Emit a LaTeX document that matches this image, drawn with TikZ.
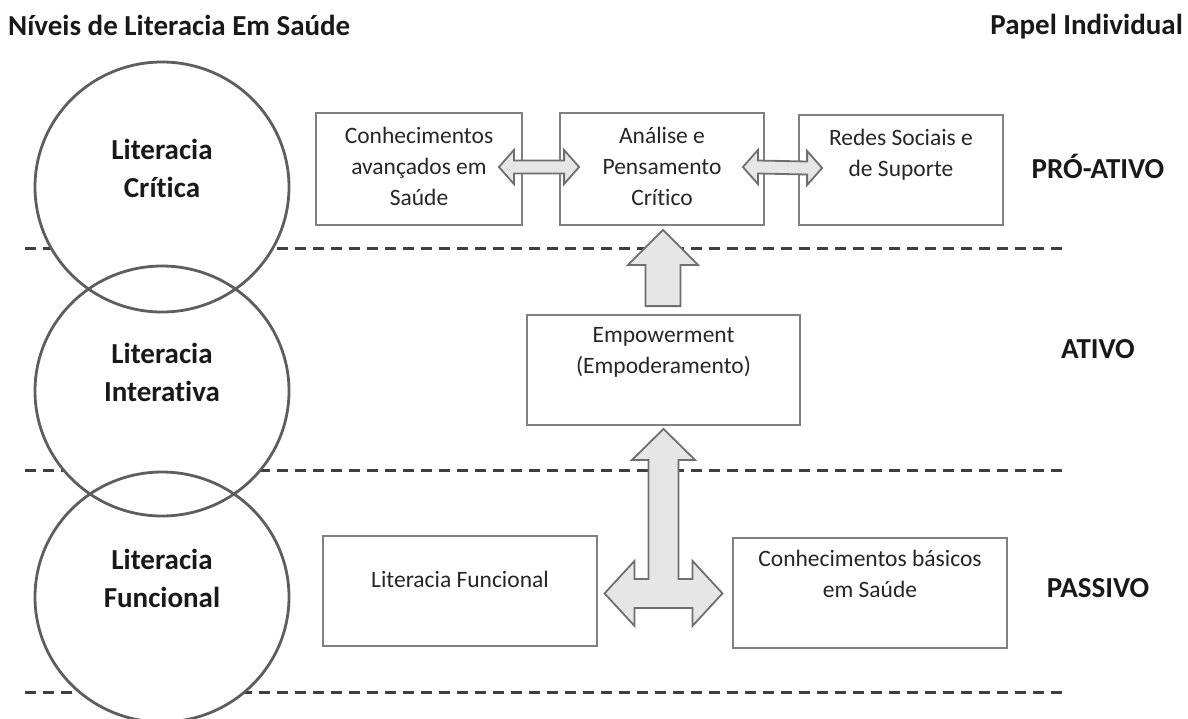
\documentclass[tikz,border=0pt]{standalone}
\usepackage{fontspec}
\setmainfont{Carlito}[Ligatures=NoCommon]
\usetikzlibrary{calc,shapes.geometric,positioning}
\definecolor{LineGray}{HTML}{808080}
\definecolor{RingGray}{HTML}{5E5E5E}
\definecolor{DashGray}{HTML}{3F3F3F}
\definecolor{ArrowFill}{HTML}{E6E6E6}
\definecolor{ArrowLine}{HTML}{6E6E6E}
\definecolor{TextGray}{HTML}{262626}
\tikzset{box/.style={draw=LineGray,line width=1.8pt,fill=white,inner sep=0pt},
  boxtext/.style={anchor=north,inner sep=0pt,align=center,text=TextGray,font=\fontsize{23.5}{31}\selectfont,execute at begin node=\strut},
  ring/.style={ellipse,fill=white,minimum width=254pt,minimum height=250pt,inner sep=0pt},
  ringline/.style={draw=RingGray,line width=2.8pt},
  ringtext/.style={anchor=north,inner sep=0pt,align=center,text=black!90,font=\bfseries\fontsize{29}{38}\selectfont,execute at begin node=\strut},
  role/.style={anchor=base,inner sep=0pt,text=black!90,font=\bfseries\fontsize{29}{35}\selectfont},
  levelline/.style={dash pattern=on 11pt off 7pt,line width=3pt,DashGray},
  blk/.style={draw=ArrowLine,fill=ArrowFill,line width=1.8pt,line join=miter}}
% block arrow with two heads, tips #1 (left) and #2 (right)
\newcommand\dblarrow[2]{\draw[blk] (#1) -- ($(#1)+(15,-17)$) -- ($(#1)+(15,-6.5)$) -- ($(#2)+(-15,-6.5)$) -- ($(#2)+(-15,-17)$) -- (#2)
  -- ($(#2)+(-15,17)$) -- ($(#2)+(-15,6.5)$) -- ($(#1)+(15,6.5)$) -- ($(#1)+(15,17)$) -- cycle;}

\begin{document}
\begin{tikzpicture}[x=1pt,y=-1pt]
\useasboundingbox (0,0) rectangle (1188,718);
\node[role,anchor=base west] (niveis) at (8,35) {Níveis de Literacia Em Saúde};
\node[role,anchor=base east] (papel) at (1183,34) {Papel Individual};
% levels
\foreach \yy in {248,470,692} \draw[levelline] (25,\yy) -- (1065,\yy);
\node[ring] (critica) at (162,187) {};
\node[ring] (interativa) at (162,391) {};
\node[ring] (funcional) at (162,597) {};
\foreach \n in {critica,interativa,funcional} \draw[ringline] (\n.center) ellipse[x radius=127,y radius=125];
\node[ringtext] (critica-t) at ($(critica.center)+(0,-48)$) {Literacia\\Crítica};
\node[ringtext] (interativa-t) at ($(interativa.center)+(0,-48)$) {Literacia\\Interativa};
\node[ringtext] (funcional-t) at ($(funcional.center)+(0,-48)$) {Literacia\\Funcional};
\node[role] (proativo) at (1098,178) {PRÓ-ATIVO};
\node[role] (ativo) at (1098,358) {ATIVO};
\node[role] (passivo) at (1098,597) {PASSIVO};
% boxes
\node[box,minimum width=206pt,minimum height=112pt] (avancados) at (419,169) {};
\node[box,minimum width=204pt,minimum height=112pt] (analise) at (662,169) {};
\node[box,minimum width=204pt,minimum height=110pt] (redes) at (901,170) {};
\node[box,minimum width=273pt,minimum height=110pt] (empower) at (663.5,370) {};
\node[box,minimum width=274pt,minimum height=110pt] (litfunc) at (460,591) {};
\node[box,minimum width=274pt,minimum height=110pt] (basicos) at (870,593) {};
\node[boxtext] (avancados-t) at ($(avancados.north)+(0,15)$) {Conhecimentos\\avançados em\\Saúde};
\node[boxtext] (analise-t) at ($(analise.north)+(0,15)$) {Análise e\\Pensamento\\Crítico};
\node[boxtext] (redes-t) at ($(redes.north)+(0,15)$) {Redes Sociais e\\de Suporte};
\node[boxtext] (empower-t) at ($(empower.north)+(0,13)$) {Empowerment\\(Empoderamento)};
\node[boxtext] (litfunc-t) at ($(litfunc.north)+(0,30)$) {Literacia Funcional};
\node[boxtext] (basicos-t) at ($(basicos.north)+(0,13)$) {Conhecimentos básicos\\em Saúde};
% block arrows
\coordinate (ab-l) at ($(avancados.east)+(-24,-2)$);
\coordinate (ab-r) at ($(analise.west)+(20,-2)$);
\coordinate (bc-l) at ($(analise.east)+(-22,-2)$);
\coordinate (bc-r) at ($(redes.west)+(24,-2)$);
\dblarrow{ab-l}{ab-r}
\dblarrow{bc-l}{bc-r}
\coordinate (up-tip) at ($(analise.south)+(1,4)$);
\coordinate (up-end) at ($(up-tip |- empower.north)+(0,-8)$);
\draw[blk] (up-tip) -- ($(up-tip)+(35,35)$) -- ($(up-tip)+(17.5,35)$) -- ($(up-end)+(17.5,0)$) -- ($(up-end)+(-17.5,0)$)
  -- ($(up-tip)+(-17.5,35)$) -- ($(up-tip)+(-35,35)$) -- cycle;
\coordinate (t-tip) at ($(empower.south)+(0,3)$);
\draw[blk] (t-tip) -- ++(31.5,31) -- ++(-16.5,0) -- ++(0,119) -- ++(14,0) -- ++(0,-18) -- ++(30,32.5) -- ++(-30,32.5) -- ++(0,-18)
  -- ++(-58,0) -- ++(0,18) -- ++(-30,-32.5) -- ++(30,-32.5) -- ++(0,18) -- ++(14,0) -- ++(0,-119) -- ++(-16.5,0) -- cycle;
\end{tikzpicture}
\end{document}
